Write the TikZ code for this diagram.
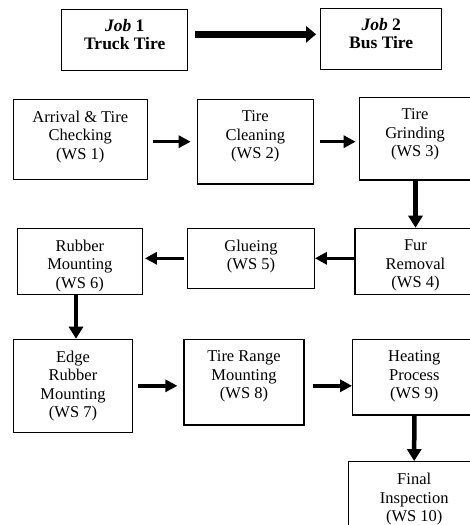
\documentclass[tikz,border=0pt]{standalone}
\usepackage{fontspec}
\setmainfont{Liberation Serif}
\usetikzlibrary{arrows.meta}
\begin{document}
\begin{tikzpicture}[
        x                 = 1pt,
        y                 = -1pt,
        station/.style    = {draw, line width=1.2pt, inner sep=0pt},
        tag/.style        = {anchor=north, yshift=-12pt, align=center, inner sep=0pt, font=\fontsize{16.5}{18.5}\selectfont},
        jobtag/.style     = {tag, yshift=1.5pt, font=\bfseries\fontsize{17.5}{18}\selectfont},
        flow/.style       = {line width=3.5pt, -{Triangle[length=12pt, width=12pt]}},
        drop/.style       = {line width=4.5pt, -{Triangle[length=12pt, width=14pt]}},
        bigflow/.style    = {line width=7pt, -{Triangle[length=10pt, width=16pt]}},
      ]
    \useasboundingbox (0,0) rectangle (470,525);
    \clip (0,0) rectangle (470,525);
    % jobs
    \node[station, minimum width=126pt, minimum height=61pt, label={[jobtag]north:{\textit{Job} 1\\Truck Tire}}] (job1) at (124.7,40) {};
    \node[station, minimum width=121pt, minimum height=61pt, label={[jobtag]north:{\textit{Job} 2\\Bus Tire}}] (job2) at (381.2,38.8) {};
    % work stations
    \node[station, minimum width=134pt, minimum height=80pt, label={[tag]north:{Arrival \& Tire\\Checking\\(WS 1)}}] (ws1) at (80.3,139.3) {};
    \node[station, minimum width=116pt, minimum height=84.7pt, label={[tag]north:{Tire\\Cleaning\\(WS 2)}}] (ws2) at (255.3,141.7) {};
    \node[station, minimum width=116.7pt, minimum height=82.7pt, label={[tag, xshift=-2.5pt]north:{Tire\\Grinding\\(WS 3)}}] (ws3) at (417.6,138.7) {};
    \node[station, minimum width=121pt, minimum height=66pt, label={[tag]north:{Fur\\Removal\\(WS 4)}}] (ws4) at (415.5,261.3) {};
    \node[station, minimum width=126.6pt, minimum height=60pt, label={[tag]north:{Glueing\\(WS 5)}}] (ws5) at (251,258.3) {};
    \node[station, minimum width=125pt, minimum height=66pt, label={[tag]north:{Rubber\\Mounting\\(WS 6)}}] (ws6) at (79.8,261.3) {};
    \node[station, minimum width=119.4pt, minimum height=93pt, label={[tag]north:{Edge\\Rubber\\Mounting\\(WS 7)}}] (ws7) at (73,385.8) {};
    \node[station, minimum width=120pt, minimum height=85.7pt, label={[tag]north:{Tire Range\\Mounting\\(WS 8)}}] (ws8) at (244,382.2) {};
    \node[station, minimum width=123.3pt, minimum height=75.7pt, label={[tag]north:{Heating\\Process\\(WS 9)}}] (ws9) at (414.3,377.2) {};
    \node[station, minimum width=131.7pt, minimum height=80pt, label={[tag]north:{Final\\Inspection\\(WS 10)}}] (ws10) at (414.2,501.7) {};
    % connectors
    \draw[bigflow, shorten <=6.3pt, shorten >=4pt] ([yshift=5.7pt]job1.east) -- ([yshift=4.5pt]job2.west);
    \draw[flow, shorten <=5pt, shorten >=6pt] (ws1.east |- ws2.west) -- (ws2.west);
    \draw[flow, shorten <=6pt, shorten >=3pt] (ws2.east) -- (ws2.east -| ws3.west);
    \draw[drop] (ws3.south -| ws4.north) -- (ws4.north);
    \draw[flow] (ws4.west |- ws5.east) -- (ws5.east);
    \draw[flow, shorten <=3pt, shorten >=2pt] (ws5.west) -- (ws5.west -| ws6.east);
    \draw[drop] ([xshift=-3.8pt]ws6.south) -- ([xshift=3pt]ws7.north);
    \draw[flow, shorten <=5pt, shorten >=6pt] (ws7.east) -- (ws7.east -| ws8.west);
    \draw[flow, shorten <=8pt] (ws8.east |- ws7.east) -- (ws9.west |- ws7.east);
    \draw[drop] (ws9.south) -- (ws10.north);
\end{tikzpicture}
\end{document}
